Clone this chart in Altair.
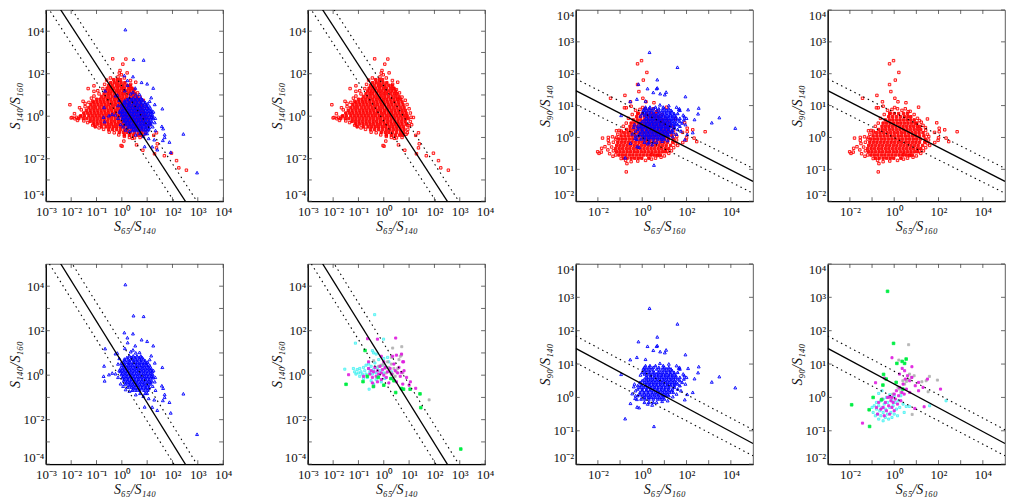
import altair as alt
import pandas as pd

RED_A_ROWS = [
 (1.72,[-.32,-.18,-.05]),
 (1.58,[-.44,-.3,-.17,-.03,.12]),
 (1.45,[-.52,-.38,-.22,-.1,.05,.2,.33]),
 (1.32,[-.58,-.44,-.31,-.16,-.02,.1,.26,.4]),
 (1.19,[-.63,-.5,-.36,-.22,-.09,.05,.18,.32,.46]),
 (1.06,[-.7,-.55,-.43,-.28,-.14,0,.12,.27,.41,.52]),
 (.93,[-.8,-.66,-.52,-.38,-.24,-.1,.04,.18,.33,.47,.6]),
 (.8,[-1.0,-.86,-.72,-.58,-.44,-.3,-.16,-.02,.12,.26,.4,.54,.67]),
 (.67,[-1.12,-.98,-.83,-.7,-.55,-.41,-.27,-.13,.01,.15,.29,.43,.57,.72]),
 (.54,[-1.22,-1.08,-.94,-.8,-.66,-.52,-.38,-.24,-.1,.04,.18,.32,.46,.6,.76]),
 (.41,[-1.3,-1.16,-1.03,-.88,-.74,-.6,-.46,-.32,-.18,-.04,.1,.24,.38,.52,.66,.8]),
 (.28,[-1.4,-1.25,-1.1,-.96,-.82,-.68,-.54,-.4,-.26,-.12,.02,.16,.3,.44,.58,.72,.85]),
 (.15,[-1.5,-1.36,-1.22,-1.08,-.94,-.8,-.66,-.52,-.38,-.24,-.1,.04,.18,.32,.46,.6,.74,.88]),
 (.02,[-1.62,-1.48,-1.3,-1.16,-1.02,-.88,-.74,-.6,-.46,-.32,-.18,-.04,.1,.24,.38,.52,.66,.8,.92]),
 (-.11,[-1.7,-1.52,-1.38,-1.24,-1.1,-.96,-.82,-.68,-.54,-.4,-.26,-.12,.02,.16,.3,.44,.58,.72,.86,.96]),
 (-.24,[-1.25,-1.12,-.98,-.84,-.7,-.56,-.42,-.28,-.14,0,.14,.28,.42,.56,.7,.84]),
 (-.37,[-1.1,-.96,-.82,-.68,-.54,-.4,-.26,-.12,.02,.16,.3,.44,.58,.72,.88]),
 (-.5,[-1.05,-.8,-.62,-.48,-.34,-.2,-.06,.08,.22,.36,.5,.64,.78]),
 (-.63,[-.52,-.36,-.2,-.05,.1,.24,.38,.52,.66,.8]),
 (-.76,[-.1,.06,.2,.34,.5,.66,.78]),
 (-.89,[.1,.3,.45,.62,.75]),
]
RED_A_OUT = [(-2.05,.54),(-1.96,-.06),(-1.87,.12),(-1.67,.4),(-1.53,.7),(-1.33,1.3),(-1.1,1.43),(-1.1,1.17),
 (-.36,2.7),(.16,2.69),(.04,2.45),(-.07,2.15),(-.02,1.95),(-.1,2.03),(.21,2.04),(.34,1.68),(.55,1.6),(.38,1.3),(.55,.8),
 (1.17,-.06),(1.1,-.4),(1.26,-.9),(1.37,-.78),(1.4,-1.3),(1.37,-1.49),(1.29,-1.77),(1.68,-1.86),(1.96,-1.74),
 (2.16,-2.09),(2.25,-2.43),(2.55,-2.54),(.83,-1.6),(.58,-1.35),(-.03,-1.38),(.01,-1.41),(.08,-1.17),(.42,-1.04),
 (.93,-.78),(.95,-.44),(-2.0,-.08),(-1.8,-.05),(-1.65,-.02),(-1.45,.6),(-1.2,.85),(-1.1,.95),
 (-.9,1.05),(-.95,1.2),(-.75,1.3),(-.68,1.5),(-.6,1.7),(-.45,1.8),(-.15,1.85),(.1,1.8),(.35,1.5),(.5,1.25),(.62,1.1),(.72,.9),
 (.85,.75),(.92,.55),(1.0,.35),(1.05,.15),(1.08,-.05),(1.05,-.25),(1.0,-.45),(.95,-.62),(.88,-.85),(.72,-1.0),(.5,-1.02),(.3,-1.0),
 (.1,-.95),(-.12,-.88),(-.3,-.78),(-.5,-.75),(-.72,-.62),(-.9,-.55),(-1.15,-.42),(-1.35,-.3),(-1.5,-.22),(-1.75,-.2),(-1.85,-.12),
 (-1.6,.3),(-1.45,.45),(-1.3,.65),(-1.15,.7)]

BLUE_A_ROWS = [
 (.86,[.3,.45,.6,.75]),(.79,[.2,.38,.52,.68,.8]),
 (.72,[.1,.25,.4,.55,.7,.85]),(.65,[.12,.3,.46,.6,.76,.92]),
 (.58,[.05,.2,.32,.48,.62,.76,.9,1.02]),(.51,[.1,.26,.4,.56,.7,.84,.98]),
 (.44,[0,.14,.28,.42,.56,.7,.84,.98,1.1]),(.37,[.06,.2,.34,.48,.62,.76,.9,1.04]),
 (.3,[-.05,.1,.24,.38,.52,.66,.8,.94,1.08,1.16]),(.23,[.02,.16,.3,.44,.58,.72,.86,1.0,1.14]),
 (.16,[-.06,.08,.22,.36,.5,.64,.78,.92,1.06,1.2]),(.09,[.02,.16,.3,.44,.58,.72,.86,1.0,1.14]),
 (.02,[-.02,.12,.26,.4,.54,.68,.82,.96,1.1,1.22]),(-.05,[.06,.2,.34,.48,.62,.76,.9,1.04,1.18]),
 (-.12,[.02,.16,.3,.44,.58,.72,.86,1.0,1.14,1.24]),(-.19,[.1,.24,.38,.52,.66,.8,.94,1.08]),
 (-.26,[.08,.22,.36,.5,.64,.78,.92,1.06,1.18]),(-.33,[.18,.32,.46,.6,.74,.88,1.02,1.14]),
 (-.4,[.14,.28,.42,.56,.7,.84,.98,1.12]),(-.47,[.32,.46,.6,.74,.88,1.02]),
 (-.54,[.24,.38,.52,.66,.8,.94,1.08]),(-.61,[.46,.62,.78,.94,1.06]),
 (-.68,[.42,.56,.7,.88,1.02]),
 (-.82,[.72,.92,1.0]),
]
BLUE_A_OUT = [(.14,4.07),(.46,2.67),(.86,2.64),(.1,1.91),(.44,1.86),(.22,1.68),(.23,1.46),(.78,1.59),(1,1.52),(1.24,1.32),
 (-.66,1.19),(.12,1.2),(.53,1.32),(.44,1.13),(-.25,.96),(-.18,.99),(1.16,.87),(-.7,.41),(-.72,-.05),(-.68,-.26),(-.51,.02),
 (-.38,.09),(-.25,.06),(-.05,-.39),(1.6,.35),(1.58,-.48),(1.63,-.59),(2.43,-.84),(1.69,-.87),(1.69,-1),(1.62,-1.14),
 (1.88,-1.22),(1.93,-1.7),(2.97,-2.66),(.9,-1.43),(1.2,-1.44),(1.4,-1.58),(1.28,-1.11),(1.06,-1.05),(1.33,-.68),(-.02,.54),(-.15,.5),
 (1.1,.7),(1.3,.55),(1.25,.2),(1.32,-.1),(1.3,-.3),(1.22,-.5),(.35,1.05),(.55,1.0),(.7,1.02),(-.1,.2),(-.15,-.1),(-.1,.75),(.05,-.5),
 (.15,-.65),(.3,-.72),(.55,-.88),(.85,-.95)]

RED_B_ROWS = [
 (.75,[-.2,0,.2,.42,.6]),
 (.65,[-.25,-.08,.1,.28,.46,.62,.75]),
 (.55,[-.4,-.22,-.06,.1,.26,.42,.58,.74,.9]),
 (.45,[-.5,-.34,-.18,-.02,.14,.3,.46,.62,.78,.94,1.02]),
 (.35,[-.55,-.4,-.24,-.08,.08,.24,.4,.56,.72,.88,1.04,1.15]),
 (.25,[-.7,-.54,-.38,-.22,-.06,.1,.26,.42,.58,.74,.9,1.06,1.2]),
 (.15,[-.8,-.64,-.48,-.32,-.16,0,.16,.32,.48,.64,.8,.96,1.12,1.3]),
 (.05,[-.95,-.78,-.62,-.46,-.3,-.14,.02,.18,.34,.5,.66,.82,.98,1.14,1.34]),
 (-.05,[-1.05,-.9,-.74,-.58,-.42,-.26,-.1,.06,.22,.38,.54,.7,.86,1.02,1.18,1.4]),
 (-.15,[-1.1,-.94,-.78,-.62,-.46,-.3,-.14,.02,.18,.34,.5,.66,.82,.98,1.14,1.38]),
 (-.25,[-1.15,-1.0,-.84,-.68,-.52,-.36,-.2,-.04,.12,.28,.44,.6,.76,.92,1.08,1.28]),
 (-.35,[-1.2,-1.04,-.88,-.72,-.56,-.4,-.24,-.08,.08,.24,.4,.56,.72,.88,1.04,1.2]),
 (-.45,[-1.15,-1.0,-.84,-.68,-.52,-.36,-.2,-.04,.12,.28,.44,.6,.76,.92,1.05]),
 (-.55,[-1.05,-.9,-.74,-.58,-.42,-.26,-.1,.06,.22,.38,.54,.7,.82]),
 (-.65,[-.85,-.68,-.5,-.34,-.18,-.02,.3]),
]
RED_B_OUT = [(-.21,2.31),(-.03,2.41),(.21,2.04),(.05,1.8),(-.21,1.66),(-.15,1.44),(-1.43,1.23),(-.78,1.32),(.03,1.23),(.17,1.12),
 (-.53,1.12),(.53,1.09),(-.72,.93),(-.8,.93),(-.5,.98),(.02,.94),(.63,.81),(1.1,.95),(1.5,.58),(1.92,.46),(-.18,.76),
 (2.84,.18),(2.28,.24),(2.03,.29),(2.03,.18),(2.34,-.02),(2.46,-.13),(1.83,-.16),(2,-.01),(1.98,-.09),(1.6,-.25),(1.56,.03),
 (1.82,.16),(1.41,.31),(1.14,.53),(-1.79,-.02),(-2.01,-.45),(-1.95,-.5),(-1.85,-.46),(-1.83,-.34),(-1.68,-.29),(-1.53,0),
 (-1.53,-.09),(-1.5,-.19),(-1.34,.02),(-1.16,0),(-1.55,-.39),(-1.47,-.51),(-1.32,-.59),(-1.16,.21),(-1.04,.22),(-.94,.16),
 (-.72,-1.08),(-.69,-.82),(.42,-.54),(.68,-.57),(1.14,-.42),
 (-1.3,-.42),(-1.38,-.3),(-1.3,-.15),(-1.2,-.05),(-1.1,.1),(-.95,.2),(-.85,.35),(-.72,.45),(-.62,.6),(-.45,.72),(-.3,.85),(-.1,.88),
 (.15,.9),(.35,.85),(.5,.9),(.72,.82),(.9,.72),(1.05,.6),(1.22,.48),(1.3,.38),(1.42,.22),(1.5,.1),(1.55,-.08),(1.5,-.2),(1.42,-.32),
 (1.32,-.42),(1.2,-.5),(1.0,-.58),(.85,-.62),(.6,-.65),(.42,-.68),(.15,-.72),(-.2,-.74),(-.5,-.76),(-.75,-.72),(-.95,-.66),(-1.2,-.55)]

BLUE_B_ROWS = [
 (.95,[.15,.35,.6,.95]),(.9,[.1,.3,.5,.75,1.0,1.2]),
 (.85,[.05,.2,.4,.66,.9,1.1,1.3,1.7]),(.8,[.1,.3,.5,.78,1.0,1.2,1.35]),
 (.75,[0,.18,.36,.54,.72,.9,1.08,1.26,1.44,1.6]),(.7,[.1,.3,.47,.64,.8,.96,1.12,1.28,1.44]),
 (.65,[.2,.38,.56,.72,.88,1.04,1.2,1.36,1.52,1.9]),(.6,[.2,.38,.54,.7,.86,1.02,1.18,1.34,1.5,1.7]),
 (.55,[.1,.28,.46,.62,.78,.94,1.1,1.26,1.42,1.6,1.88]),(.5,[0,.2,.36,.5,.66,.82,.98,1.14,1.3,1.46,1.7]),
 (.45,[-.1,.1,.26,.42,.58,.74,.9,1.06,1.22,1.38,1.54,1.8]),(.4,[-.05,.18,.34,.5,.66,.82,.98,1.14,1.3,1.46,1.6]),
 (.35,[-.2,-.02,.16,.32,.48,.64,.8,.96,1.12,1.28,1.44,1.7]),(.3,[-.1,.08,.24,.4,.56,.72,.88,1.04,1.2,1.45]),
 (.25,[-.2,0,.2,.38,.54,.7,.86,1.02,1.18,1.36,1.6]),(.2,[0,.18,.34,.52,.68,.84,1.0,1.16,1.32]),
 (.15,[-.1,.08,.26,.44,.6,.76,.92,1.08,1.24,1.4]),(.1,[-.1,.1,.28,.46,.64,.8,.98,1.14]),
 (.05,[-.2,0,.18,.36,.54,.72,.9,1.05,1.2]),(0,[.1,.28,.42,.6,.78,.94]),
 (-.05,[-.05,.12,.3,.5,.7,.85,1.0]),
 (-.15,[.1,.3,.5]),
]
BLUE_B_OUT = [(.33,2.67),(1.59,2.2),(-.17,1.67),(.68,1.81),(.24,1.53),(.65,1.53),(.68,1.55),(.5,1.41),(.81,1.37),(1.08,1.42),
 (1.02,1.34),(1.95,1.28),(-.54,1.13),(-.24,1.2),(.15,1.14),(2.55,.92),(2.52,.74),(2.07,.87),(2.36,.56),(3.14,.46),(3.48,.62),
 (4.2,.29),(2.28,.15),(2.03,.09),(1.92,-.07),(1.95,.4),(1.65,.87),(1.68,.9),(-.95,.69),(-.38,.32),(-.45,.11),(-.53,-.18),
 (-.32,-.03),(-.24,-.06),(-.23,-.29),(-.14,-.31),(-.77,-.64),(.53,-.87),(.45,-.23),(-.08,.67),
 (1.55,.95),(1.2,1.0),(.8,1.02),(1.85,.7),(2.0,.6),(1.75,.2),(1.55,.1),(1.38,.02),(1.15,-.1),(.9,-.12),(.65,-.15),(.25,-.2),(-.35,.4),(-.3,.2),(-.3,.05)]

CYAN_A = [(-.36,2.72),(-.01,1.62),(-1.12,1.44),(-1.54,.27),(-.58,-.63),(-.45,1.1),(-.4,1.0),(-.3,.95),
 (-1.2,.3),(-1.15,.15),(-1.1,.05),(-1.05,.25),(-1.0,.1),(-.95,-.05),(-.95,.3),(-.9,.15),(-.85,.05),(-.8,-.15),(-.8,.35),(-.75,.2),
 (-.7,.45),(-.7,.05),(-.65,-.1),(-.6,.3),(-.6,.5),(-.55,.15),(-.5,-.25),(-.5,.4),(-.45,.05),(-.4,-.4),(-.4,.25),(-.35,.55),
 (-.3,.1),(-.3,-.2),(-.25,.35),(-.2,-.05),(-.2,.7),(-.15,.2),(-.1,-.3),(-.05,.45),(0,.1),(0,.75),(.05,-.15),(.1,.35),(.2,.6),(.3,.15),(.15,.8)]
MAGENTA_A = [(.47,1.67),(-.64,1.64),(-.25,1.62),(-1.39,.02),(.78,.6),(1.26,-.59),(-.6,.3),(-.55,.05),(-.5,.2),(-.45,-.1),(-.4,.15),
 (-.35,.35),(-.3,-.05),(-.25,.2),(-.25,-.3),(-.2,.05),(-.15,.4),(-.1,.1),(-.1,-.2),(-.05,.25),(0,.0),(0,.6),(.05,.35),(.1,-.1),
 (.15,.15),(.2,-.35),(.25,.3),(.3,.05),(.35,-.15),(.4,.5),(.45,.2),(.5,-.3),(.55,.1),(.6,.35),(.65,-.05),(.7,.12),(.75,-.4),(.8,.2),
 (.9,-.1),(1.0,-.45),(1.05,-.3),(.5,.9),(.35,.85),(.7,.95),(.75,.6),(-.1,.85),(-.6,.6),(-.8,-.05),(-.45,-.35),(-.4,-.5)]
GREY_A = [(.35,1.22),(.71,1.28),(.7,.9),(1.79,-1.11),(-.4,.65),(.0,.5),(.05,.3),(.1,.1),(.2,.35),(.25,.15),(.3,.5),(.35,.05),(.4,.3),
 (.45,-.05),(.5,.15),(.55,.3),(.6,.7),(.65,.85),(.3,.8),(-.1,.45),(-.2,.4),(.15,.6),(.75,.1)]
GREEN_A = [(-.74,1.11),(-1.49,-.41),(-.82,-.29),(-.41,-.51),(0,-.45),(.47,-.78),(.78,-.63),(1.04,-.63),(1.43,-.84),(1.46,-1.46),
 (3.04,-3.32),(.28,-.15),(-.22,-.1),(-.65,-.05),(.4,-.25),(.7,-.6)]

CYAN_B = [(2.34,-.1),(1.6,-.25),(.54,-.27),(.68,-.27),(-1.0,-.3),(-.95,-.45),(-.9,-.25),(-.85,-.55),(-.8,-.35),(-.8,-.15),(-.75,-.5),(-.7,-.25),
 (-.7,-.65),(-.65,-.4),(-.6,-.1),(-.6,-.55),(-.55,-.3),(-.5,-.7),(-.5,-.45),(-.5,-.05),(-.45,-.2),(-.4,-.6),(-.4,-.35),(-.35,0),(-.3,-.5),
 (-.3,-.15),(-.25,-.65),(-.2,-.3),(-.2,.08),(-.15,-.45),(-.1,-.1),(-.1,-.6),(-.05,-.25),(0,-.5),(0,.05),(.05,-.15),(.1,-.35),(.15,-.55),(.2,-.1),
 (.25,-.3),(.3,.05),(.4,-.2),(-.55,.2),(-.7,.12),(.45,-.45)]
MAGENTA_B = [(-.1,1.19),(-1.43,-.77),(2.09,.25),(1.35,-.28),(.93,-.33),(.8,.92),(.36,.87),(.47,.8),(.24,.7),(-.84,.44),(-.44,.58),
 (-.8,-.3),(-.75,-.5),(-.7,-.15),(-.6,-.35),(-.55,-.05),(-.5,-.3),(-.45,-.55),(-.4,-.15),(-.35,-.4),(-.3,0),(-.25,-.25),(-.2,-.5),(-.2,.02),(-.15,-.1),
 (-.1,.0),(-.1,-.3),(-.05,-.15),(0,.1),(0,-.4),(.05,-.05),(.1,.2),(.15,-.2),(.2,.05),(.25,.3),(.3,-.1),(.35,.15),(.4,.4),(.45,.1),(.5,.55),(.55,.25),
 (.6,.65),(.7,.5),(.8,.6),(.95,.35),(1.1,.45),(1.3,.3),(1.5,.55),(1.1,.2),(.7,.15)]
GREY_B = [(.65,1.58),(.21,1.12),(1.59,.63),(1.44,.5),(1.25,.47),(1.95,.52),(1.53,.17),(.81,-.51),(.69,.7),(.77,.6),(.62,.55),(.47,.4),(.24,.25),
 (-.06,.1),(-.21,0),(.39,.5),(.17,.3),(.55,.48),(.9,.65),(.3,.15)]
GREEN_B = [(-.3,3.18),(-.03,1.62),(.12,1.02),(.36,1.08),(.54,1.15),(.47,1.02),(-.48,.69),(-.36,.55),(-.51,.37),(-.95,0),(-.57,-.07),(-1.13,-.37),
 (-1.11,-.87),(-1.92,-.22),(.09,.45),(.39,.25)]

LINE_A_X = [-4, 5]
LINE_A_MID = [7.91, -8.56]
LINE_A_LOW = [7.09, -9.38]
LINE_A_HIGH = [8.74, -7.73]
LINE_B_X = [-3, 5]
LINE_B_MID = [1.47, -1.38]
LINE_B_HIGH = [1.84, -.97]
LINE_B_LOW = [1.04, -1.75]

DEC_X_A = [-3,-2,-1,0,1,2,3,4]
DEC_Y_A = [-4,-3,-2,-1,0,1,2,3,4]
DEC_X_B = [-2,-1,0,1,2,3,4]
DEC_Y_B = [-2,-1,0,1,2,3,4]

FONT = "Liberation Serif"
W = 178

def rows(r):
    return [(x, y) for y, xs in r for x in xs]

def frame(pts):
    return pd.DataFrame({"x": [10.0**p[0] for p in pts], "y": [10.0**p[1] for p in pts]})

SUP = "['⁻⁴','⁻³','⁻²','⁻¹','⁰','¹','²','³','⁴','⁵']"

def label_expr(every2):
    e = "round(log(datum.value)/LN10)"
    t = "'10' + " + SUP + "[" + e + "+4]"
    if every2 == "even":
        return "(" + e + " % 2 == 0) ? " + t + " : ''"
    return t

def panel(layers, kind, h, xt, yt):
    if kind == "A":
        xd, yd = [1e-3, 1e4], [1e-4, 1e5]
        xv, yv = DEC_X_A, DEC_Y_A
        lx = LINE_A_X
        ls = [(LINE_A_MID, False), (LINE_A_LOW, True), (LINE_A_HIGH, True)]
        xlab, ylab = "all", "even"
    else:
        xd, yd = [1e-3, 1e5], [1e-2, 1e4]
        xv, yv = DEC_X_B, DEC_Y_B
        lx = LINE_B_X
        ls = [(LINE_B_MID, False), (LINE_B_HIGH, True), (LINE_B_LOW, True)]
        xlab, ylab = "even", "all"
    xax = alt.Axis(values=[10.0**v for v in xv], ticks=False, grid=False, labelExpr=label_expr(xlab),
                   labelFont=FONT, labelFontSize=13, labelColor="#111", labelOverlap=False, labelPadding=4,
                   labelFlush=False, domainColor="#000", domainWidth=1.2, title=xt, titleFont=FONT, titleFontSize=14,
                   titleFontStyle="italic", titleFontWeight="normal", titleColor="#111", titlePadding=1)
    yax = alt.Axis(values=[10.0**v for v in yv], ticks=False, grid=False, labelExpr=label_expr(ylab),
                   labelFont=FONT, labelFontSize=13, labelColor="#111", labelOverlap=False, labelPadding=2,
                   labelFlush=True, domainColor="#000", domainWidth=1.2, title=yt, titleFont=FONT, titleFontSize=14,
                   titleFontStyle="italic", titleFontWeight="normal", titleColor="#111", titlePadding=0)
    X = alt.X("x:Q", scale=alt.Scale(type="log", domain=xd, nice=False), axis=xax)
    Y = alt.Y("y:Q", scale=alt.Scale(type="log", domain=yd, nice=False), axis=yax)
    out = []
    for pts, shape, size, stroke, fill, fo, sw in layers:
        m = alt.Chart(frame(pts)).mark_point(shape=shape, size=size, stroke=stroke, strokeWidth=sw,
                                             fill=fill, fillOpacity=fo, opacity=1)
        out.append(m.encode(x=X, y=Y))
    for vals, dotted in ls:
        d = pd.DataFrame({"x": [10.0**v for v in lx], "y": [10.0**v for v in vals]})
        kw = {"strokeDash": [1.5, 3.5], "strokeWidth": 1.1} if dotted else {"strokeWidth": 1.3}
        out.append(alt.Chart(d).mark_line(color="#000", clip=True, **kw).encode(x=X, y=Y))
    tx = pd.DataFrame({"x": [10.0**v for v in xv]})
    ty = pd.DataFrame({"y": [10.0**v for v in yv]})
    tick = dict(color="#444", strokeWidth=0.8)
    out.append(alt.Chart(tx).mark_rule(**tick).encode(x=X, y=alt.value(h), y2=alt.value(h - 4)))
    out.append(alt.Chart(tx).mark_rule(**tick).encode(x=X, y=alt.value(0), y2=alt.value(4)))
    out.append(alt.Chart(ty).mark_rule(**tick).encode(y=Y, x=alt.value(0), x2=alt.value(4)))
    out.append(alt.Chart(ty).mark_rule(**tick).encode(y=Y, x=alt.value(W), x2=alt.value(W - 4)))
    return alt.layer(*out).properties(width=W, height=h)

SQ = "M-1,-1H1V1H-1Z"
TR = "M0,-1.1L1.1,0.9H-1.1Z"
def red(rw, ou):
    return [(rows(rw), SQ, 6, "#ff0000", "#ff0000", .9, .9), (ou, SQ, 6, "#ff0000", "#ff0000", .12, .9)]
def blue(rw, ou):
    return [(rows(rw), TR, 7, "#0000ff", "#0000ff", .5, .9), (ou, TR, 7, "#0000ff", "#0000ff", .08, .9)]
def groups(c, m, g, gr):
    return [(c, SQ, 4.5, "#30f0f0", "#30f0f0", .4, .7), (g, SQ, 4.5, "#b0b0b0", "#b0b0b0", .9, .7),
            (m, SQ, 4.5, "#e020e0", "#e020e0", .9, .8), (gr, SQ, 7, "#00ee44", "#00ee44", 1, .8)]

XA, YA = "S₆₅/S₁₄₀", "S₁₄₀/S₁₆₀"
XB, YB = "S₆₅/S₁₆₀", "S₉₀/S₁₄₀"
H1, H2 = 192, 201

def row(ps):
    a = alt.hconcat(ps[0], ps[1], spacing=37)
    b = alt.hconcat(ps[2], ps[3], spacing=36)
    return alt.hconcat(a, b, spacing=43)

ra, rb = red(RED_A_ROWS, RED_A_OUT), red(RED_B_ROWS, RED_B_OUT)
ba, bb = blue(BLUE_A_ROWS, BLUE_A_OUT), blue(BLUE_B_ROWS, BLUE_B_OUT)
top = row([panel(ra + ba, "A", H1, XA, YA), panel(ra, "A", H1, XA, YA),
           panel(rb + bb, "B", H1, XB, YB), panel(rb, "B", H1, XB, YB)])
bot = row([panel(ba, "A", H2, XA, YA), panel(groups(CYAN_A, MAGENTA_A, GREY_A, GREEN_A), "A", H2, XA, YA),
           panel(bb, "B", H2, XB, YB), panel(groups(CYAN_B, MAGENTA_B, GREY_B, GREEN_B), "B", H2, XB, YB)])

chart = alt.vconcat(top, bot, spacing=29).configure_view(stroke="#333", strokeWidth=0.8).properties(
    padding={"left": 0, "top": 0, "right": 0, "bottom": 0}, background="white")
chart.save("out.html", embed_options={"renderer": "svg", "actions": False})
